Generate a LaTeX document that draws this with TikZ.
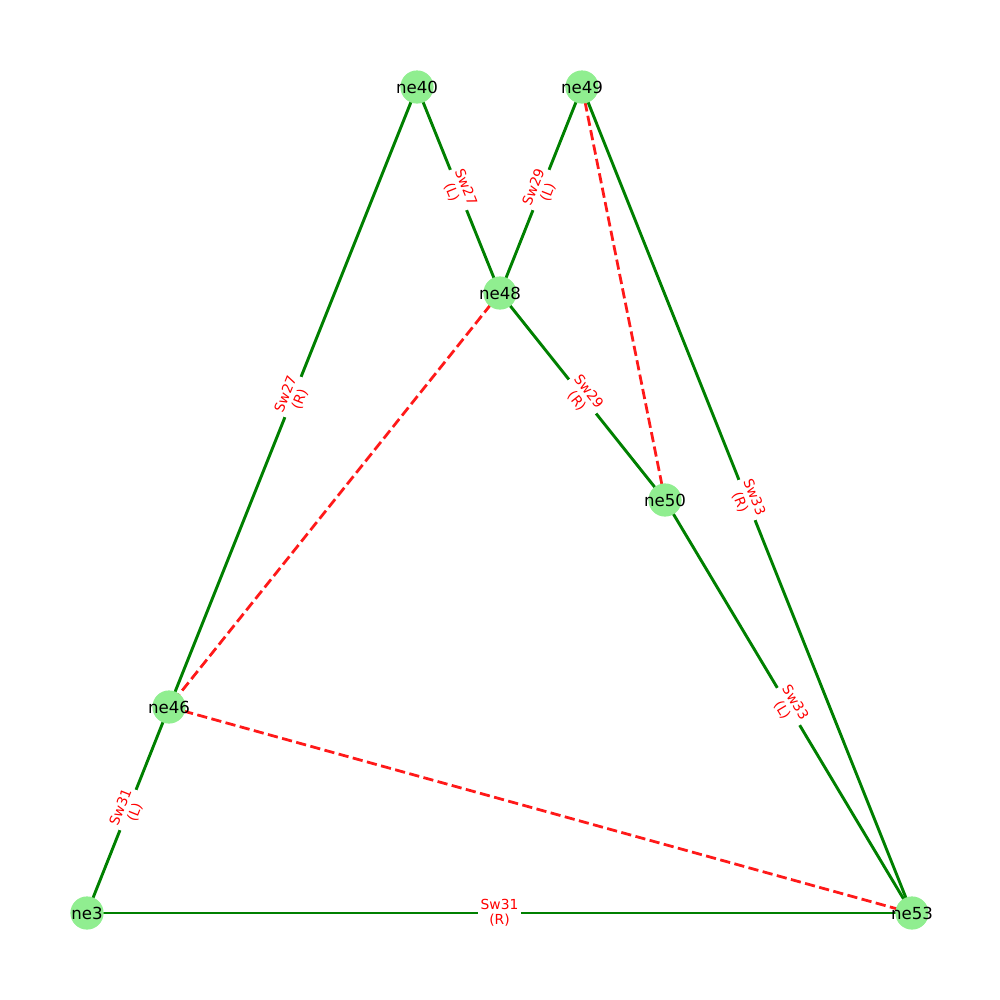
\documentclass[tikz,border=0pt]{standalone}
\usepackage{fontspec}
\setmainfont{DejaVu Sans}
\usetikzlibrary{backgrounds}
\definecolor{nodegreen}{RGB}{144,238,144}
\definecolor{edgegreen}{RGB}{0,128,0}
\definecolor{openred}{RGB}{255,25,25}
\newcommand{\nename}[1]{\makebox[0pt]{#1}}
\begin{document}
\begin{tikzpicture}[
            x=0.254mm, y=-0.254mm,
            ne/.style = {shape=circle, fill=nodegreen, minimum size=24pt, inner sep=0pt, font=\fontsize{12}{14}\selectfont},
            closed/.style = {draw=edgegreen, line width=2.1pt},
            open/.style = {draw=openred, line width=2pt, dash pattern=on 7.4pt off 3.2pt},
            sw/.style = {midway, sloped, fill=white, inner sep=2pt, align=center, text=red, font=\fontsize{10}{11}\selectfont}
        ]
        \useasboundingbox (0,0) rectangle (1000,1000);
        \node[ne] (ne40) at (417,87) {\nename{ne40}};
        \node[ne] (ne49) at (582,87) {\nename{ne49}};
        \node[ne] (ne48) at (500,293) {\nename{ne48}};
        \node[ne] (ne50) at (665,500) {\nename{ne50}};
        \node[ne] (ne46) at (169,707) {\nename{ne46}};
        \node[ne] (ne3) at (87,913) {\nename{ne3}};
        \node[ne] (ne53) at (912,913) {\nename{ne53}};
        \begin{pgfonlayer}{background}
        % open switches
        \draw[open] (ne49.center) -- (ne50.center);
        \draw[open] (ne48.center) -- (ne46.center);
        \draw[open] (ne46.center) -- (ne53.center);
        % closed switches
        \draw[closed] (ne40.center) -- node[sw] {Sw27\\(L)} (ne48.center);
        \draw[closed] (ne46.center) -- node[sw] {Sw27\\(R)} (ne40.center);
        \draw[closed] (ne48.center) -- node[sw] {Sw29\\(L)} (ne49.center);
        \draw[closed] (ne48.center) -- node[sw] {Sw29\\(R)} (ne50.center);
        \draw[closed] (ne3.center) -- node[sw] {Sw31\\(L)} (ne46.center);
        \draw[closed] (ne3.center) -- node[sw] {Sw31\\(R)} (ne53.center);
        \draw[closed] (ne50.center) -- node[sw] {Sw33\\(L)} (ne53.center);
        \draw[closed] (ne49.center) -- node[sw] {Sw33\\(R)} (ne53.center);
        \end{pgfonlayer}
\end{tikzpicture}
\end{document}
